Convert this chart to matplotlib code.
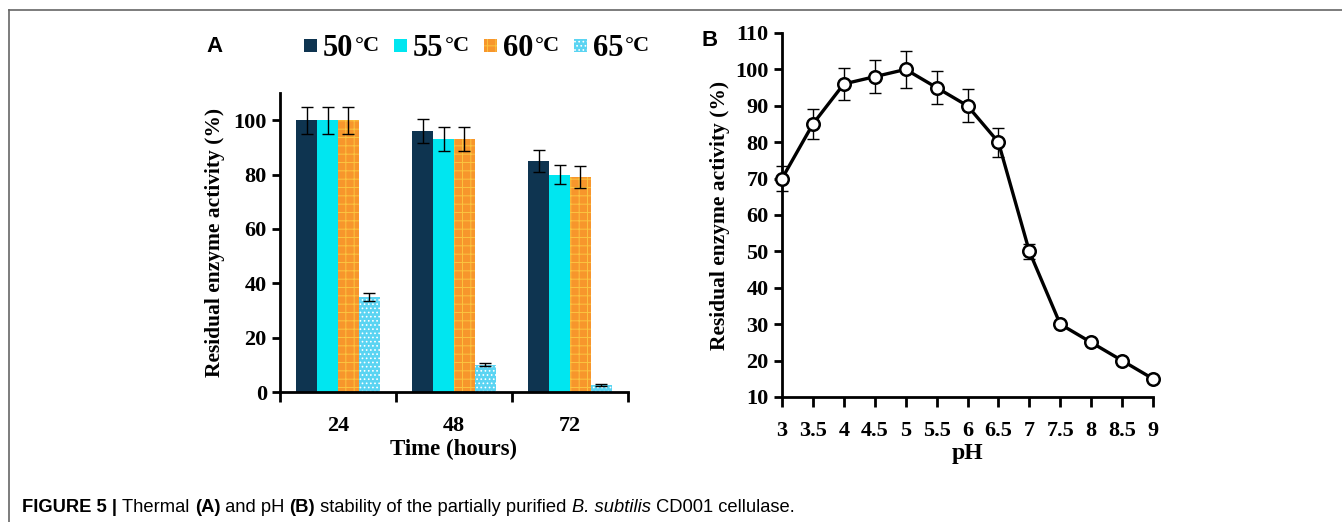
import numpy as np
import matplotlib
matplotlib.use("Agg")
import matplotlib.pyplot as plt
from matplotlib.patches import Rectangle
from matplotlib.lines import Line2D

# ---- data ----
times = ["24", "48", "72"]
temps = ["50", "55", "60", "65"]
act_50 = [100, 96, 85]
act_55 = [100, 93, 80]
act_60 = [100, 93, 79]
act_65 = [35, 10, 2.5]
err_50 = [5, 4.5, 4]
err_55 = [5, 4.5, 3.5]
err_60 = [5, 4.5, 4]
err_65 = [1.5, 0.5, 0.3]

ph = [3, 3.5, 4, 4.5, 5, 5.5, 6, 6.5, 7, 7.5, 8, 8.5, 9]
ph_act = [70, 85, 96, 98, 100, 95, 90, 80, 50, 30, 25, 20, 15]
ph_err = [3.5, 4, 4.5, 4.5, 5, 4.5, 4.5, 4, 2, 0.5, 0.5, 0.5, 0.5]

plt.rcParams['hatch.linewidth'] = 0.7
serif = "Liberation Serif"
W, H = 1342, 522
fig = plt.figure(figsize=(W / 100, H / 100), dpi=100)

#frame lines of the figure box
fig.add_artist(Line2D([9 / W, 1], [1 - 10 / H] * 2, color="#666666", lw=1.2))
fig.add_artist(Line2D([9 / W] * 2, [0, 1 - 10 / H], color="#666666", lw=1.2))

# ---- panel A : thermal stability ----
axA = fig.add_axes([280 / W, 1 - 392 / H, 348 / W, 299 / H])
vals = [act_50, act_55, act_60, act_65]
errs = [err_50, err_55, err_60, err_65]
colours = ["#0e3450", "#00e6f0", "#f7962c", "#5ad4f2"]
hatches = [None, None, "++", "...."]
hcols = ["#0e3450", "#00e6f0", "#fbc440", "white"]
x = np.arange(len(times))
w = 0.181
for i in range(4):
    axA.bar(x + (i - 1.5) * w, vals[i], w, color=colours[i], hatch=hatches[i],
            edgecolor=hcols[i], linewidth=0)
    axA.errorbar(x + (i - 1.5) * w, vals[i], yerr=errs[i], fmt="none",
                 ecolor="black", elinewidth=1, capsize=4, capthick=1)
axA.set_xlim(-0.5, 2.5)
axA.set_ylim(0, 110)
axA.set_yticks(range(0, 101, 20))
axA.set_xticks(x)
axA.set_xticklabels(times)
axA.set_xticks([-0.5, 0.5, 1.5, 2.5], minor=True)
axA.tick_params(axis="x", which="major", length=0, pad=17)
axA.tick_params(axis="x", which="minor", length=7, width=2, direction="out")
axA.tick_params(axis="y", length=6, width=2, direction="out")
for s in ["top", "right"]:
    axA.spines[s].set_visible(False)
for s in ["left", "bottom"]:
    axA.spines[s].set_linewidth(2)
for lab in axA.get_xticklabels() + axA.get_yticklabels():
    lab.set_fontfamily(serif); lab.set_fontweight("bold"); lab.set_fontsize(16)
axA.set_ylabel("Residual enzyme activity (%)", family=serif, weight="bold",
               fontsize=15.5, labelpad=6)
axA.set_xlabel("Time (hours)", family=serif, weight="bold", fontsize=16.5, labelpad=2)

# legend above panel A
leg_x = [304, 394, 484, 574]
for i in range(4):
    fig.add_artist(Rectangle((leg_x[i] / W, 1 - 52 / H), 13 / W, 13 / H,
                             facecolor=colours[i], hatch=hatches[i],
                             edgecolor=hcols[i], linewidth=0,
                             transform=fig.transFigure))
    t = fig.text((leg_x[i] + 19) / W, 1 - 56 / H, temps[i], family=serif,
                 weight="bold", fontsize=22, va="baseline")
    axA.annotate("°C", xy=(1, 0), xycoords=t, xytext=(1, 5),
                 textcoords="offset points", family=serif, weight="bold",
                 fontsize=16, va="bottom", annotation_clip=False)

fig.text(206 / W, 1 - 46 / H, "A", family="Liberation Sans", weight="bold",
         fontsize=16, va="center")

# ---- panel B : pH stability ----
axB = fig.add_axes([782 / W, 1 - 397 / H, 371 / W, 364 / H])
axB.errorbar(ph, ph_act, yerr=ph_err, fmt="none", ecolor="black",
             elinewidth=1, capsize=4, capthick=1, clip_on=False)
axB.plot(ph, ph_act, color="black", lw=2.4, marker="o", markersize=9,
         markerfacecolor="white", markeredgecolor="black", markeredgewidth=1.8,
         clip_on=False, zorder=5)
axB.set_xlim(3, 9)
axB.set_ylim(10, 110)
axB.set_xticks(ph)
axB.set_xticklabels(["%g" % v for v in ph])
axB.set_yticks(range(10, 111, 10))
axB.tick_params(axis="x", length=7, width=2, direction="out", pad=10)
axB.tick_params(axis="y", length=6, width=2, direction="out")
for s in ["top", "right"]:
    axB.spines[s].set_visible(False)
for s in ["left", "bottom"]:
    axB.spines[s].set_linewidth(2)
for lab in axB.get_xticklabels() + axB.get_yticklabels():
    lab.set_fontfamily(serif); lab.set_fontweight("bold"); lab.set_fontsize(16)
axB.set_ylabel("Residual enzyme activity (%)", family=serif, weight="bold",
               fontsize=15.5, labelpad=4)
axB.set_xlabel("pH", family=serif, weight="bold", fontsize=17, labelpad=2)

fig.text(702 / W, 1 - 40 / H, "B", family="Liberation Sans", weight="bold",
         fontsize=16, va="center")

# ---- caption ----
parts = [("FIGURE 5 | ", "bold", "normal"), ("Thermal ", "normal", "normal"),
         ("(A)", "bold", "normal"), (" and pH ", "normal", "normal"),
         ("(B)", "bold", "normal"), (" stability of the partially purified ", "normal", "normal"),
         ("B. subtilis", "normal", "italic"), (" CD001 cellulase.", "normal", "normal")]
t = fig.text(22 / W, 1 - 512 / H, parts[0][0], family="Liberation Sans",
             weight=parts[0][1], style=parts[0][2], fontsize=13.2, va="baseline")
for txt, wt, st in parts[1:]:
    t = axA.annotate(txt, xy=(1, 0), xycoords=t, family="Liberation Sans",
                     weight=wt, style=st, fontsize=13.2, va="bottom",
                     annotation_clip=False)

fig.savefig("out.png", dpi=100)
